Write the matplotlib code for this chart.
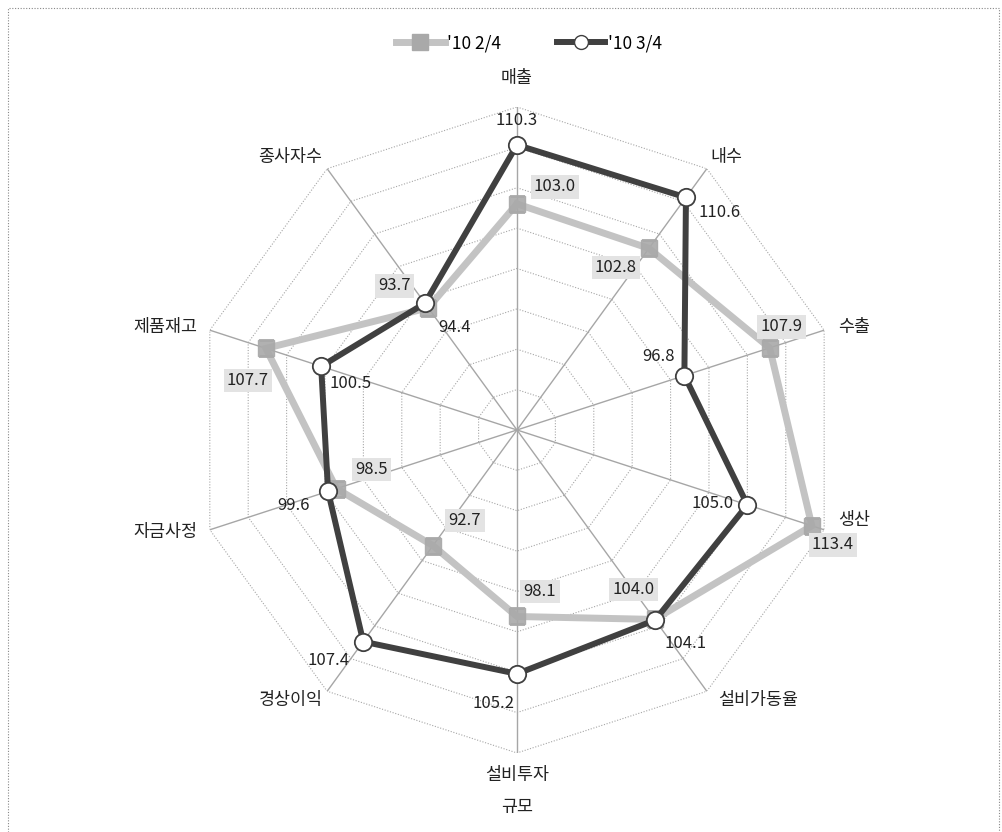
import numpy as np
import matplotlib
matplotlib.use("Agg")
from matplotlib import pyplot as plt
from matplotlib.lines import Line2D
from matplotlib.patches import Rectangle

plt.rcParams['font.family'] = ['Noto Sans CJK KR', 'DejaVu Sans']

categories = ['매출', '내수', '수출', '생산', '설비가동율', '설비투자\n규모',
              '경상이익', '자금사정', '제품재고', '종사자수']
q2_values = [103.0, 102.8, 107.9, 113.4, 104.0, 98.1, 92.7, 98.5, 107.7, 93.7]
q3_values = [110.3, 110.6, 96.8, 105.0, 104.1, 105.2, 107.4, 99.6, 100.5, 94.4]
series_names = ["'10 2/4", "'10 3/4"]
r_min, r_max, r_step = 75, 115, 5

# label offsets in pixels (dx, dy up)
q2_offsets = [(38, 17), (-33, -19), (12, 21), (21, -19), (-21, 30),
              (23, 25), (32, 25), (35, 19), (-18, -32), (-34, 22)]
q3_offsets = [(0, 24), (34, -15), (-26, 19), (-35, 1), (30, -23),
              (-23, -30), (-35, -19), (-35, -14), (29, -17), (30, -24)]
# category label offsets from the outer vertex, pixels
cat_offsets = [(0, 29), (20, 12), (30, 3), (30, 10), (51, -9),
               (0, -38), (-36, -9), (-44, -2), (-44, 3), (-37, 12)]

LIGHT = '#c3c3c3'
LIGHT_MK = '#a9a9a9'
DARK = '#404040'
GRID = '#a6a6a6'
TEXT = '#222222'

n = len(categories)
angles = np.linspace(0, 2 * np.pi, n, endpoint=False)
closed = np.append(angles, angles[0])

fig = plt.figure(figsize=(10.02, 8.32), dpi=100)
ax = fig.add_axes([0.1936, 0.0950, 0.6447, 0.7764], projection='polar')
ax.set_theta_zero_location('N')
ax.set_theta_direction(-1)
ax.set_ylim(r_min, r_max)
ax.grid(False)
ax.set_xticks([])
ax.set_yticks([])
ax.spines['polar'].set_visible(False)

# -- grid ---------------------------------------------------------------------
for v in range(r_min + r_step, r_max + 1, r_step):
    ax.plot(closed, [v] * (n + 1), color=GRID, lw=0.8, ls=(0, (1, 1.5)),
            zorder=1)
for a in angles:
    ax.plot([a, a], [r_min, r_max], color=GRID, lw=1.0, zorder=1)

# -- series -------------------------------------------------------------------
q2c = q2_values + q2_values[:1]
q3c = q3_values + q3_values[:1]
ax.plot(closed, q2c, color=LIGHT, lw=5, zorder=3, solid_joinstyle='miter')
ax.plot(angles, q2_values, ls='none', marker='s', ms=12, mfc=LIGHT_MK,
        mec=LIGHT_MK, alpha=0.9, zorder=4)
ax.plot(closed, q3c, color=DARK, lw=4.3, zorder=5, solid_joinstyle='miter')
ax.plot(angles, q3_values, ls='none', marker='o', ms=12.5, mfc='white',
        mec=DARK, mew=1.3, zorder=6)

for a, v, off in zip(angles, q2_values, q2_offsets):
    ax.annotate('{:.1f}'.format(v), (a, v), xytext=off,
                textcoords='offset pixels', ha='center', va='center',
                fontsize=12, color=TEXT, zorder=7,
                bbox=dict(boxstyle='square,pad=0.2', fc='#e3e3e3', ec='none'))
for a, v, off in zip(angles, q3_values, q3_offsets):
    ax.annotate('{:.1f}'.format(v), (a, v), xytext=off,
                textcoords='offset pixels', ha='center', va='center',
                fontsize=12, color=TEXT, zorder=7)

# -- category labels ----------------------------------------------------------
for a, c, off in zip(angles, categories, cat_offsets):
    ax.annotate(c, (a, r_max), xytext=off, textcoords='offset pixels',
                ha='center', va='center', fontsize=12.5, color=TEXT,
                linespacing=2.0, annotation_clip=False)

# -- legend -------------------------------------------------------------------
handles = [
    Line2D([], [], color=LIGHT, lw=5, marker='s', ms=11, mfc=LIGHT_MK,
           mec=LIGHT_MK),
    Line2D([], [], color=DARK, lw=4.3, marker='o', ms=10, mfc='white',
           mec=DARK),
]
fig.legend(handles, series_names, loc='center', bbox_to_anchor=(0.528, 0.948),
           ncol=2, frameon=False, fontsize=12.5, handlelength=2.8,
           handletextpad=0.15, columnspacing=3.2)

fig.add_artist(Rectangle((0.008, -0.01), 0.989, 1.0, transform=fig.transFigure,
                         fill=False, ec='#888888', lw=0.8, ls=(0, (1, 1.5))))

fig.savefig('out.png', dpi=100)
